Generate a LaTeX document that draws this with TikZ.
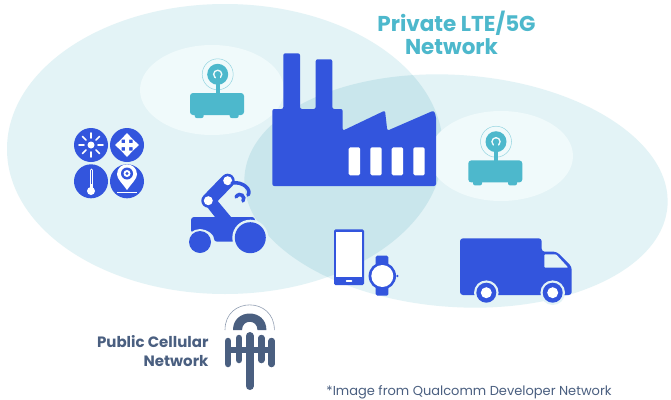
\documentclass[tikz,border=0pt]{standalone}
\usepackage{fontspec}
\setmainfont{Poppins}
\definecolor{paleA}{HTML}{E3F3F6}
\definecolor{paleB}{HTML}{C9E6EC}
\definecolor{paleC}{HTML}{F0FAFB}
\definecolor{iconblue}{HTML}{3355DD}
\definecolor{teal}{HTML}{4DB8CC}
\definecolor{slate}{HTML}{4A5F80}
\tikzset{
  bluefill/.style={fill=iconblue},
  whitefill/.style={fill=white},
  slatefill/.style={fill=slate},
  whiteline/.style={draw=white,line cap=round},
  slatebar/.style={draw=slate,line cap=round,line width=6.5pt},
  router/.pic={
    \fill[teal,rounded corners=3pt] (-27.7,18.7) rectangle (26.3,40.7);
    \fill[teal,rounded corners=2pt] (-23,36) rectangle (-14,43.7);
    \fill[teal,rounded corners=2pt] (12,36) rectangle (21,43.7);
    \draw[teal!60,line width=.5pt] (0,0) circle[radius=15.5pt];
    \fill[teal] (0,0) circle[radius=10.5pt];
    \fill[paleC] (0,0) circle[radius=4.8pt];
    \draw[teal,line width=4pt] (0,0) -- (0,20);
    \fill[teal] (0,0) circle[radius=3.2pt];
  },
  truckwheel/.pic={
    \fill[paleA] (0,0) circle[radius=12.3pt];
    \fill[iconblue] (0,0) circle[radius=10pt];
    \fill[white] (0,0) circle[radius=5.5pt];
  }
}
\begin{document}
\begin{tikzpicture}[x=1pt,y=-1pt]
\useasboundingbox (0,0) rectangle (671,399);
\fill[white] (0,0) rectangle (671,399);
% coverage ellipses
\fill[paleA] (225,149) ellipse[x radius=218pt,y radius=145pt];
\fill[paleA,shift={(456,191)},rotate=-4] (0,0) ellipse[x radius=212pt,y radius=116pt];
\begin{scope}
  \clip (225,149) ellipse[x radius=218pt,y radius=145pt];
  \fill[paleB,shift={(456,191)},rotate=-4] (0,0) ellipse[x radius=212pt,y radius=116pt];
\end{scope}
\fill[paleC] (212,90) ellipse[x radius=72pt,y radius=45pt];
\fill[paleC] (501,156) ellipse[x radius=72pt,y radius=45pt];
% routers
\pic at (217.7,74.3) {router};
\pic at (496,141.7) {router};
% factory
\fill[bluefill,rounded corners=2pt] (272.3,109) -- (283.3,109) -- (283.3,53.3) -- (300,53.3) -- (300,109)
  -- (315.7,109) -- (315.7,59.3) -- (332.3,59.3) -- (332.3,109) -- (342.7,109) -- (342.7,130.7)
  -- (385,110.5) -- (387.3,130.7) -- (433.8,110.5) -- (436,116) -- (436,186) -- (272.3,186) -- cycle;
\foreach \wx in {348.7,370.3,391.7,413.3}
  \fill[whitefill,rounded corners=1.5pt] (\wx,147.3) rectangle ++(11.4,28);
% sensor icons
\fill[bluefill] (91,145) circle[radius=17pt];
\fill[bluefill] (127,145) circle[radius=17pt];
\fill[bluefill] (91,181.3) circle[radius=17pt];
\fill[bluefill] (127,181.3) circle[radius=17pt];
\fill[whitefill] (91,145) circle[radius=3.5pt];
\foreach \a in {0,45,...,315}
  \draw[whiteline,line width=1.6pt,shift={(91,145)},rotate=\a] (7,0) -- (12,0);
\fill[whitefill] (127,133) -- (133,139.5) -- (129,139.5) -- (129,143) -- (132.5,143) -- (132.5,139) -- (139,145)
  -- (132.5,151) -- (132.5,147) -- (129,147) -- (129,150.5) -- (133,150.5) -- (127,157) -- (121,150.5)
  -- (125,150.5) -- (125,147) -- (121.5,147) -- (121.5,151) -- (115,145) -- (121.5,139) -- (121.5,143)
  -- (125,143) -- (125,139.5) -- (121,139.5) -- cycle;
\draw[white,line width=3pt,line cap=round] (91,170) -- (91,188);
\fill[whitefill] (91,191) circle[radius=4pt];
\draw[iconblue,line width=.8pt] (91,170) -- (91,184);
\fill[whitefill] (127,190) .. controls (123,184) and (117,179) .. (117,174.5)
  .. controls (117,161) and (137,161) .. (137,174.5) .. controls (137,179) and (131,184) .. (127,190) -- cycle;
\fill[bluefill] (127,173.5) circle[radius=6pt];
\fill[whitefill] (127,173.5) circle[radius=3.5pt];
\fill[bluefill] (127,173.5) circle[radius=1.7pt];
\draw[white,line width=.8pt] (117,192) -- (137,192);
% robot
\draw[iconblue,line width=14pt,line cap=round] (208.3,200.7) -- (227.7,180.7);
\fill[bluefill] (204,203) -- (215,217) -- (231,217) -- (212.7,195) -- cycle;
\fill[whitefill] (208.3,200.7) circle[radius=4.5pt];
\fill[whitefill] (227.7,180.7) circle[radius=4.5pt];
\draw[iconblue,line width=3.5pt,line cap=round] (232,183) .. controls (243,181) and (252,190) .. (248,195);
\draw[iconblue,line width=3.5pt,line cap=round] (236,197) .. controls (240,191) and (246,197) .. (243,201);
\fill[bluefill,rounded corners=3pt] (191,233) -- (191,217) -- (255,217) -- (255,241.7) -- (214,241.7)
  .. controls (214,233) and (203,226) .. (191,233) -- cycle;
\fill[paleA] (250.3,237.7) circle[radius=18pt];
\fill[paleA] (200,242) circle[radius=13pt];
\fill[bluefill] (250.3,237.7) circle[radius=15.5pt];
\fill[bluefill] (200,242) circle[radius=11pt];
% phone and watch
\fill[bluefill,rounded corners=1.5pt] (334,229.3) rectangle (364,285);
\fill[whitefill] (336,231.7) rectangle (362.3,277.3);
\draw[white,line width=1.5pt,line cap=round] (346.5,281) -- (351.5,281);
\fill[bluefill,rounded corners=1.5pt] (375.7,255.7) rectangle (388.3,295.7);
\fill[bluefill] (382.3,276) circle[radius=13.7pt];
\fill[whitefill] (382.3,276) circle[radius=11pt];
\fill[bluefill] (397.3,276) circle[radius=1.3pt];
% truck
\fill[bluefill,rounded corners=3pt] (460,238.3) -- (541.7,238.3) -- (541.7,251.7) -- (556.7,251.7)
  -- (571.7,266.7) -- (571.7,295) -- (460,295) -- cycle;
\fill[paleA,rounded corners=1pt] (544.3,254.3) -- (556,254.3) -- (568.3,267.7) -- (544.3,267.7) -- cycle;
\pic at (486.3,292.7) {truckwheel};
\pic at (552.7,292.7) {truckwheel};
% public cellular antenna
\draw[slate!60,line width=.6pt] (225,330) .. controls (225,296.5) and (274.4,296.5) .. (274.4,330);
\fill[slatefill] (233,330) .. controls (233,308) and (266.4,308) .. (266.4,330) -- (257.5,330)
  .. controls (257.5,319) and (242,319) .. (242,330) -- cycle;
\draw[slatebar,line width=8pt] (249.7,336) -- (249.7,386);
\draw[slatebar] (239,338) -- (239,360);
\draw[slatebar] (261.3,338) -- (261.3,360);
\draw[slatebar] (228,341) -- (228,364);
\draw[slatebar] (271.7,341) -- (271.7,364);
\draw[slate,line width=6pt] (228,350) -- (271.7,350);
% labels
\node[text=teal,font=\bfseries\fontsize{21.5}{23}\selectfont,align=center] (privatelabel) at (456.5,33) {Private LTE/5G\\Network\hspace*{10pt}};
\node[text=slate,font=\bfseries\fontsize{15}{19}\selectfont,align=right,anchor=east] (publiclabel) at (212,351) {Public Cellular\\Network};
\node[text=slate,font=\fontsize{13}{15}\selectfont,inner sep=0pt] (creditlabel) at (469,392) {*Image from Qualcomm Developer Network};
\end{tikzpicture}
\end{document}
